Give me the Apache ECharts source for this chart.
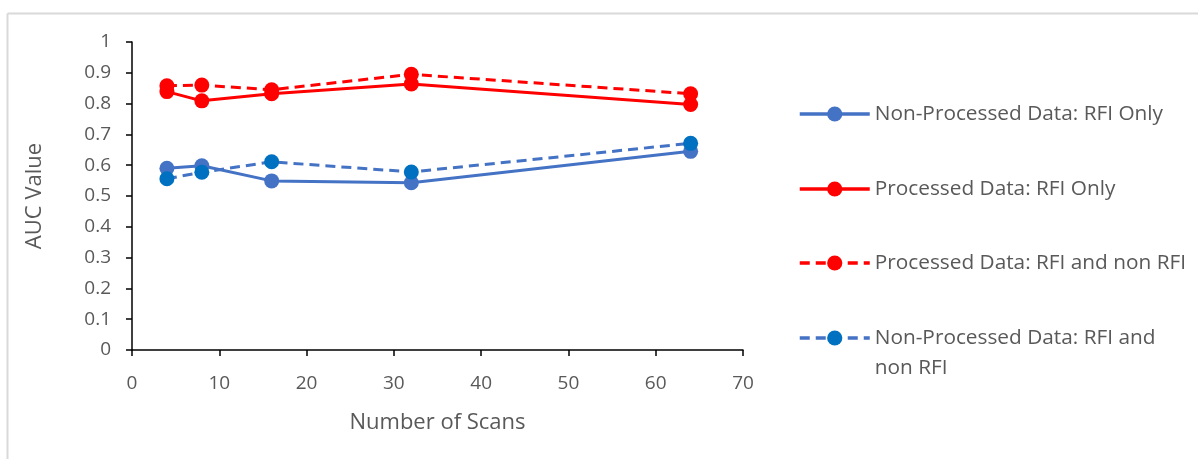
<!DOCTYPE html>
<html><head><meta charset="utf-8">
<script src="https://cdn.jsdelivr.net/npm/echarts@6/dist/echarts.min.js"></script>
<style>html,body{margin:0;padding:0;background:#fff}#c{width:1198px;height:459px}</style>
</head><body><div id="c"></div>
<script>
const scans = [4, 8, 16, 32, 64];
const nonProcRfiOnly = [0.590, 0.598, 0.549, 0.543, 0.645];
const procRfiOnly = [0.839, 0.809, 0.832, 0.864, 0.797];
const procRfiNon = [0.858, 0.860, 0.845, 0.895, 0.832];
const nonProcRfiNon = [0.556, 0.577, 0.611, 0.578, 0.671];
const seriesNames = ['Non-Processed Data: RFI Only','Processed Data: RFI Only','Processed Data: RFI and non RFI','Non-Processed Data: RFI and non RFI'];
const yTicks = ['0','0.1','0.2','0.3','0.4','0.5','0.6','0.7','0.8','0.9','1'];

const FONT = 'Open Sans';
const TXT = '#595959';
const pairs = a => scans.map((x,i)=>[x,a[i]]);

function mk(name, data, color, mcolor, dashed){
  return {name, type:'line', data:pairs(data), symbol:'circle', symbolSize:15,
    lineStyle:{color, width:3, type: dashed? [10,6] : 'solid'},
    itemStyle:{color:mcolor, borderWidth:0}, z: dashed?3:2, animation:false};
}
const LH = 30;
function lg(name, top, extra){
  return Object.assign({left:798, top, padding:0, orient:'vertical', itemWidth:70, itemHeight:19,
    itemGap:0, data:[name], selectedMode:false,
    lineStyle:{width:3.5},
    textStyle:{fontFamily:FONT, fontSize:20.8, color:TXT, lineHeight:LH}}, extra||{});
}
const chart = echarts.init(document.getElementById('c'), null, {renderer:'canvas'});
chart.setOption({
  backgroundColor:'#fff',
  animation:false,
  grid:{left:132, top:42, width:611, height:308, containLabel:false},
  xAxis:{type:'value', min:0, max:70, interval:10,
    axisLine:{show:true, onZero:false, lineStyle:{color:'#000', width:1.5}},
    axisTick:{show:true, length:6, lineStyle:{color:'#000', width:1.5}},
    splitLine:{show:false},
    axisLabel:{fontFamily:FONT, fontSize:19, color:TXT, margin:24},
    name:'Number of Scans', nameLocation:'middle', nameGap:62,
    nameTextStyle:{fontFamily:FONT, fontSize:22, color:TXT}},
  yAxis:{type:'value', min:0, max:1, interval:0.1,
    axisLine:{show:true, onZero:false, lineStyle:{color:'#000', width:1.5}},
    axisTick:{show:true, length:6, lineStyle:{color:'#000', width:1.5}},
    splitLine:{show:false},
    axisLabel:{fontFamily:FONT, fontSize:19, color:TXT, margin:21,
      formatter:(v)=>{const i=Math.round(v*10); return yTicks[i];}},
    name:'AUC Value', nameLocation:'middle', nameGap:86,
    nameTextStyle:{fontFamily:FONT, fontSize:22, color:TXT}},
  legend:[
    lg(seriesNames[0], 114-LH/2),
    lg(seriesNames[1], 189-LH/2),
    lg(seriesNames[2], 263-LH/2),
    lg(seriesNames[3], 338-LH*1.5, {formatter:()=>'\u00a0\nNon-Processed Data: RFI and\nnon RFI'})
  ],
  series:[
    mk(seriesNames[0], nonProcRfiOnly, '#4472C4', '#4472C4', false),
    mk(seriesNames[1], procRfiOnly, '#FF0000', '#FF0000', false),
    mk(seriesNames[2], procRfiNon, '#FF0000', '#FF0000', true),
    mk(seriesNames[3], nonProcRfiNon, '#4472C4', '#0070C0', true)
  ],
  graphic:[
    {type:'line', shape:{x1:7.5,y1:13.5,x2:1198,y2:13.5}, style:{stroke:'#D9D9D9', lineWidth:2}, silent:true},
    {type:'line', shape:{x1:7.5,y1:13.5,x2:7.5,y2:459}, style:{stroke:'#D9D9D9', lineWidth:2}, silent:true}
  ]
});
</script></body></html>
